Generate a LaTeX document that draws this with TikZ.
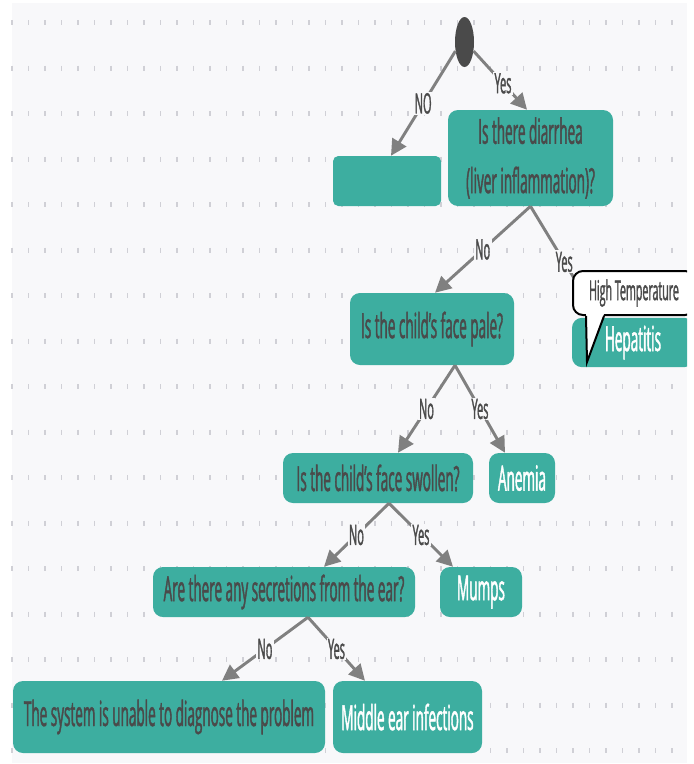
\documentclass[tikz,border=0pt]{standalone}
\usepackage{fontspec}
\setmainfont{Open Sans}[FakeStretch=0.39, FakeBold=1.2]
\usetikzlibrary{arrows.meta,shapes.geometric}
\definecolor{tealbox}{RGB}{61,174,160}
\definecolor{bgcol}{RGB}{248,248,250}
\definecolor{dotcol}{RGB}{208,208,214}
\definecolor{txtcol}{RGB}{74,74,74}
\definecolor{arrcol}{RGB}{128,128,128}
\tikzset{
>={Triangle[width=12pt,length=12pt]},
	box1/.style={
		rectangle,
		rounded corners=7.5pt,
		fill=tealbox,
		inner sep=0pt,
		text=txtcol,
		font=\fontsize{26}{37}\selectfont,
		align=center},
	box2/.style={
		box1,
		text=white},
	lbl/.style={
		fill=bgcol,
		text=txtcol,
		inner sep=1pt,
		font=\fontsize{21}{24}\selectfont},
	link/.style={->, draw=arrcol, line width=2.2pt}
}
\begin{document}
\begin{tikzpicture}[x=0.75pt, y=-0.75pt]
\useasboundingbox (0,0) rectangle (693,764);
\fill[white] (0,0) rectangle (693,764);
\fill[bgcol] (12,3) rectangle (687,763);
\foreach \r in {0,...,16}
  \foreach \c in {0,...,40}
    \draw[dotcol, line width=0.9pt] (12+16.5*\c, 20+45.5*\r) -- ++(0,5);
\begin{scope}
\clip (12,3) rectangle (687,763);
\node[ellipse, fill=txtcol, inner sep=0pt, minimum width=14.25pt, minimum height=37.5pt] (start) at (464.5,42) {};
\node[box1, rounded corners=4pt, minimum width=81pt, minimum height=37.5pt] (empty) at (387,181) {};
\node[box1, minimum width=123.75pt, minimum height=72pt] (diarrhea) at (530.5,158) {Is there diarrhea\\(liver inflammation)?};
\node[box1, minimum width=123pt, minimum height=54pt] (pale) at (432,329) {Is the child's face pale?};
\node[box2, minimum width=91.5pt, minimum height=37pt] (hepatitis) at (633,342.5) {Hepatitis};
\node[box1, minimum width=142.5pt, minimum height=37.5pt] (swollen) at (378,478) {Is the child's face swollen?};
\node[box2, minimum width=49.5pt, minimum height=37.5pt] (anemia) at (522,478) {Anemia};
\node[box1, minimum width=196.5pt, minimum height=37.5pt] (ear) at (284,592) {Are there any secretions from the ear?};
\node[box2, minimum width=61.5pt, minimum height=37.5pt] (mumps) at (481,592) {Mumps};
\node[box1, minimum width=234pt, minimum height=54pt] (system) at (169,717) {The system is unable to diagnose the problem};
\node[box2, minimum width=111.75pt, minimum height=54pt] (middle) at (407.5,717) {Middle ear infections};

\draw[link] (start.225) -- node[lbl] {NO} ([xshift=3pt]empty.north);
\draw[link] (start.-45) -- node[lbl, pos=0.55] {Yes} ([xshift=-2.6pt]diarrhea.north);
\draw[link] (diarrhea.south) -- node[lbl] {No} ([xshift=2.25pt]pale.north);
\draw[link] (diarrhea.south) -- node[lbl] {Yes} ([xshift=-26.25pt]hepatitis.north);
\draw[link] ([xshift=17.25pt]pale.south) -- node[lbl] {No} ([xshift=15pt]swollen.north);
\draw[link] ([xshift=17.25pt]pale.south) -- node[lbl] {Yes} ([xshift=-12.75pt]anemia.north);
\draw[link] ([xshift=8.25pt]swollen.south) -- node[lbl] {No} ([xshift=30pt]ear.north);
\draw[link] ([xshift=8.25pt]swollen.south) -- node[lbl] {Yes} ([xshift=-21pt]mumps.north);
\draw[link] ([xshift=18pt]ear.south) -- node[lbl] {No} ([xshift=39.75pt]system.north);
\draw[link] ([xshift=18pt]ear.south) -- node[lbl] {Yes} ([xshift=-31.9pt]middle.north);

% callout on top of the hepatitis box
\node[rectangle, rounded corners=7.5pt, fill=white, draw=black, line width=1.5pt, minimum width=91.5pt, minimum height=33pt, text=txtcol, font=\fontsize{20.5}{22}\selectfont] (callout) at (634,293) {High Temperature};
\coordinate (tip) at (587,362);
\fill[white] ([xshift=10.5pt,yshift=1.5pt]callout.south west) -- (tip) -- ([xshift=24pt,yshift=1.5pt]callout.south west) -- cycle;
\draw[line width=1.5pt] ([xshift=10.5pt]callout.south west) -- (tip) -- ([xshift=24pt]callout.south west);
\end{scope}
\end{tikzpicture}
\end{document}
